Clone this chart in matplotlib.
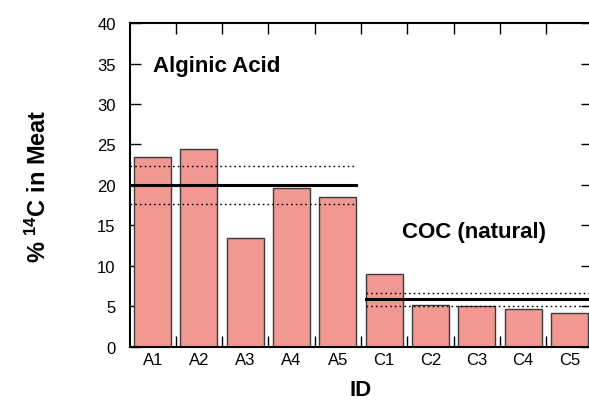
import matplotlib
matplotlib.use('Agg')
import matplotlib.pyplot as plt
import numpy as np

plt.rcParams['font.family'] = ['Liberation Sans', 'DejaVu Sans']
plt.rcParams['mathtext.fontset'] = 'custom'
plt.rcParams['mathtext.rm'] = 'Liberation Sans'
plt.rcParams['mathtext.bf'] = 'Liberation Sans:bold'

# sample ids and % 14C values
ids = ['A1', 'A2', 'A3', 'A4', 'A5', 'C1', 'C2', 'C3', 'C4', 'C5']
pct14c = [23.5, 24.5, 13.45, 19.6, 18.5, 9.05, 5.2, 5.05, 4.65, 4.15]

# group mean lines (solid) and bands (dotted)
alginic_mean = 20.0
alginic_band = [22.3, 17.7]
coc_mean = 5.9
coc_band = [6.7, 5.0]

fig = plt.figure(figsize=(5.89, 4.02), dpi=100)
ax = fig.add_axes([0.2199, 0.135, 0.786, 0.805])

x = np.arange(len(ids))
ax.bar(x, pct14c, 0.8, color='#f29893', edgecolor='#3a3a3a', linewidth=1.0, zorder=2)

# alginic acid group lines (A1..A5)
ax.plot([-0.5, 4.4], [alginic_mean, alginic_mean], color='black', lw=2.2, zorder=3)
for v in alginic_band:
    ax.plot([-0.5, 4.4], [v, v], color='black', lw=1.0, ls=(0, (1.2, 2.2)), zorder=3)

# COC group lines (C1..C5)
ax.plot([4.6, 9.5], [coc_mean, coc_mean], color='black', lw=2.2, zorder=3)
for v in coc_band:
    ax.plot([4.6, 9.5], [v, v], color='black', lw=1.0, ls=(0, (1.2, 2.2)), zorder=3)

ax.text(0.0, 34.7, 'Alginic Acid', fontsize=16, fontweight='bold', ha='left', va='center')
ax.text(5.38, 14.2, 'COC (natural)', fontsize=16, fontweight='bold', ha='left', va='center')

ax.set_xlim(-0.5, 9.5)
ax.set_ylim(0, 40)
ax.set_xticks(x)
ax.set_xticklabels(ids)
ax.set_xticks(np.arange(0.5, 9.0, 1.0), minor=True)
ax.set_yticks(np.arange(0, 41, 5))
ax.tick_params(axis='x', which='major', length=0, labelsize=12, pad=4)
ax.tick_params(axis='x', which='minor', direction='in', length=8, width=1, top=True, bottom=True)
ax.tick_params(axis='y', which='major', direction='in', length=8, width=1, right=True, labelsize=12, pad=10)
ax.tick_params(axis='y', which='minor', left=False, right=False)

for s in ax.spines.values():
    s.set_linewidth(1.5)

ax.set_xlabel('ID', fontsize=16, fontweight='bold')
ax.xaxis.set_label_coords(0.5, -0.10)
ax.set_ylabel(r'% $\mathbf{^{14}}$C in Meat', fontsize=17, fontweight='bold')
ax.yaxis.set_label_coords(-0.17, 0.5)

fig.savefig('out.png', dpi=100)
